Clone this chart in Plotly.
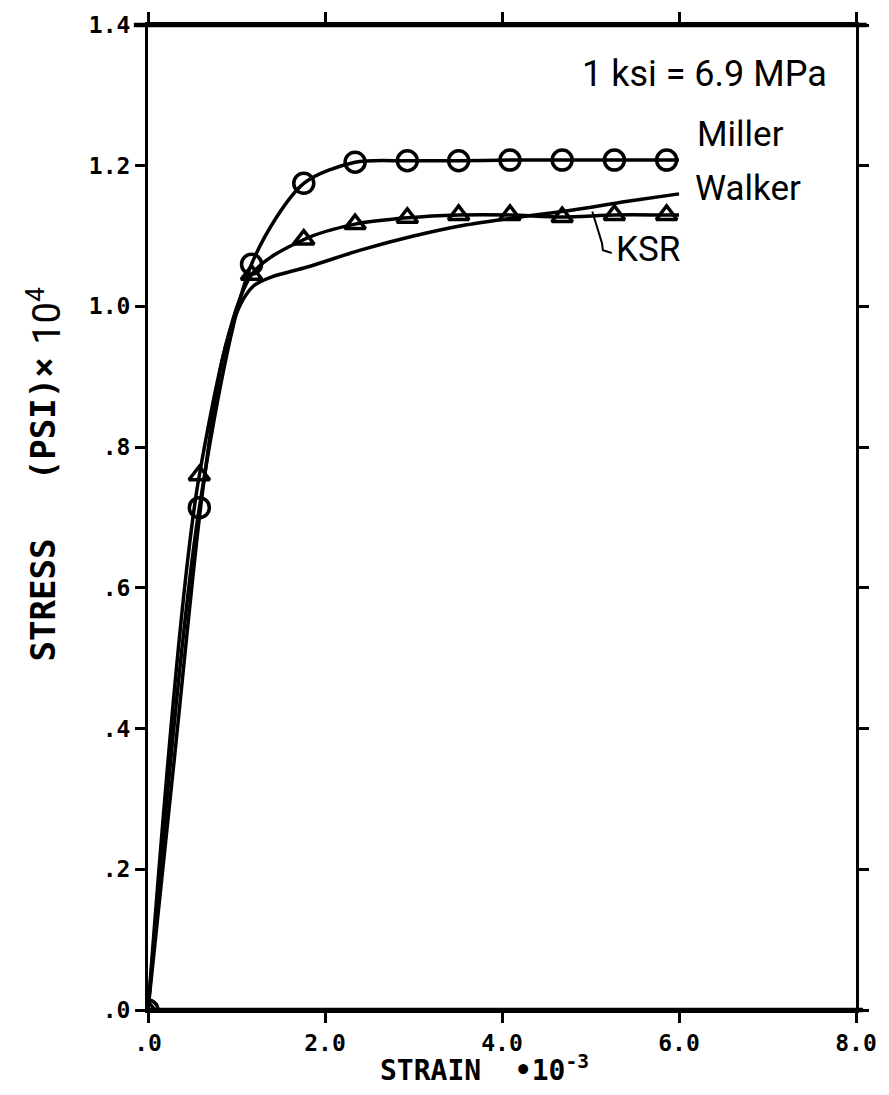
import plotly.graph_objects as go

# ---- data ----
strain_pts = [0.0, 0.58, 1.17, 1.76, 2.34, 2.93, 3.51, 4.09, 4.68, 5.27, 5.86]
miller_y = [0.0, 0.714, 1.06, 1.175, 1.205, 1.207, 1.207, 1.208, 1.208, 1.208, 1.208]
ksr_y = [0.0, 0.76, 1.045, 1.095, 1.117, 1.126, 1.13, 1.13, 1.127, 1.13, 1.13]
curve_end_x = 6.0
miller_end_y = 1.208
ksr_end_y = 1.13

walker_x = [0.0, 0.3, 0.6, 0.85, 1.0, 1.1, 1.2, 1.4, 1.8, 2.4, 3.0, 3.6, 4.2, 4.8, 5.4, 6.0]
walker_y = [0.0, 0.36, 0.72, 0.93, 0.99, 1.015, 1.03, 1.042, 1.056, 1.08, 1.1, 1.116, 1.127, 1.137, 1.149, 1.16]

x_ticks = [0, 2, 4, 6, 8]
x_ticktext = [".0", "2.0", "4.0", "6.0", "8.0"]
y_ticks = [0, 0.2, 0.4, 0.6, 0.8, 1.0, 1.2, 1.4]
y_ticktext = [".0", ".2", ".4", ".6", ".8", "1.0", "1.2", "1.4"]

ink = "black"
tickfont = dict(family="DejaVu Sans Mono", size=23, color=ink, weight="bold")
mono_bold = dict(family="DejaVu Sans Mono", size=34, color=ink, weight="bold")

fig = go.Figure()

# Walker (plain curve)
fig.add_trace(go.Scatter(x=walker_x, y=walker_y, mode="lines",
                         line=dict(color=ink, width=3.5, shape="spline", smoothing=0.8),
                         showlegend=False))
# KSR curve + triangles
fig.add_trace(go.Scatter(x=strain_pts + [curve_end_x], y=ksr_y + [ksr_end_y], mode="lines",
                         line=dict(color=ink, width=3.5, shape="spline", smoothing=0.8),
                         showlegend=False))
fig.add_trace(go.Scatter(x=strain_pts, y=ksr_y, mode="markers",
                         marker=dict(symbol="triangle-up-open", size=18, color=ink,
                                     line=dict(width=3.5, color=ink)),
                         showlegend=False))
# Miller curve + circles
fig.add_trace(go.Scatter(x=strain_pts + [curve_end_x], y=miller_y + [miller_end_y], mode="lines",
                         line=dict(color=ink, width=3.5, shape="spline", smoothing=0.8),
                         showlegend=False))
fig.add_trace(go.Scatter(x=strain_pts, y=miller_y, mode="markers",
                         marker=dict(symbol="circle-open", size=20, color=ink,
                                     line=dict(width=3.5, color=ink)),
                         showlegend=False))

axis_common = dict(showgrid=False, zeroline=False, showline=True, linecolor=ink,
                   linewidth=3, mirror="ticks", ticks="outside", ticklen=10,
                   tickwidth=2.5, tickcolor=ink, tickfont=tickfont, ticklabelstandoff=0)

fig.update_xaxes(range=[0, 8], tickvals=x_ticks, ticktext=x_ticktext, **axis_common)
fig.update_yaxes(range=[0, 1.4], tickvals=y_ticks, ticktext=y_ticktext, **axis_common)

label_font = dict(family="Roboto, sans-serif", size=35, color=ink)

annotations = [
    dict(x=4.88, y=1.33, text="1 ksi = 6.9 MPa", xanchor="left", yanchor="middle",
         showarrow=False, font=dict(family="Roboto, sans-serif", size=36, color=ink)),
    dict(x=6.18, y=1.245, text="Miller", xanchor="left", yanchor="middle",
         showarrow=False, font=label_font),
    dict(x=6.16, y=1.168, text="Walker", xanchor="left", yanchor="middle",
         showarrow=False, font=label_font),
    dict(x=5.26, y=1.081, text="KSR", xanchor="left", yanchor="middle",
         showarrow=False, font=label_font),
    # y-axis title pieces
    dict(x=-0.148, y=0.416, xref="paper", yref="paper", textangle=-90,
         xanchor="center", yanchor="middle", text="STRESS", showarrow=False,
         font=mono_bold),
    dict(x=-0.148, y=0.6, xref="paper", yref="paper", textangle=-90,
         xanchor="center", yanchor="middle", text="(PSI)×", showarrow=False,
         font=mono_bold),
    dict(x=-0.148, y=0.705, xref="paper", yref="paper", textangle=-90,
         xanchor="center", yanchor="middle", text="10<sup>4</sup>", showarrow=False,
         font=dict(family="Roboto, sans-serif", size=38, color=ink)),
    # x-axis title
    dict(x=0.475, y=-0.059, xref="paper", yref="paper",
         xanchor="center", yanchor="middle",
         text="STRAIN  •10<sup>-3</sup>", showarrow=False,
         font=dict(family="DejaVu Sans Mono", size=28, color=ink, weight="bold")),
]

shapes = [
    # KSR leader line
    dict(type="path", xref="x", yref="y",
         path="M 5.02 1.135 L 5.13 1.09 L 5.14 1.08 L 5.24 1.076",
         line=dict(color=ink, width=2)),
    # heavier top and bottom frame lines extending slightly past the frame
    dict(type="line", xref="paper", yref="paper", x0=-0.02, x1=1.015, y0=1, y1=1,
         line=dict(color=ink, width=4.5)),
    dict(type="line", xref="paper", yref="paper", x0=0, x1=1.01, y0=0, y1=0,
         line=dict(color=ink, width=4.5)),
]

fig.update_layout(width=889, height=1095, plot_bgcolor="white", paper_bgcolor="white",
                  margin=dict(l=148, r=27, t=18, b=85),
                  annotations=annotations, shapes=shapes)

fig.write_html("out.html")
